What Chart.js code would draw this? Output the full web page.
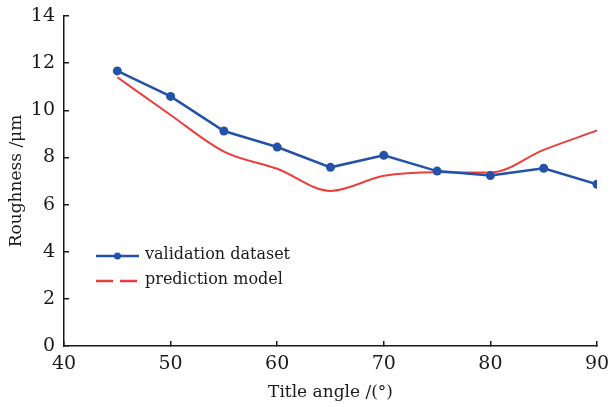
<!DOCTYPE html>
<html>
<head>
<meta charset="utf-8">
<script src="https://cdn.jsdelivr.net/npm/chart.js@4"></script>
<style>
    html, body { margin: 0; padding: 0; background: #ffffff; }
    #wrap { width: 611px; height: 407px; }
</style>
</head>
<body>
<div id="wrap"><canvas id="roughChart" width="611" height="407"></canvas></div>
<script>
const angles = [45, 50, 55, 60, 65, 70, 75, 80, 85, 90];
const validationValues = [11.67, 10.59, 9.12, 8.44, 7.58, 8.09, 7.42, 7.23, 7.54, 6.86];
const predictionValues = [11.4, 9.8, 8.25, 7.52, 6.58, 7.22, 7.37, 7.36, 8.32, 9.14];
const xTicks = [40, 50, 60, 70, 80, 90];
const yTicks = [0, 2, 4, 6, 8, 10, 12, 14];
const seriesNames = ['validation dataset', 'prediction model'];

const blue = '#2352a8';
const red = '#ea3f3c';
const ink = '#1a1a1a';
const serif = "'DejaVu Serif', 'Liberation Serif', serif";

// legend sits inside the plot, so draw it by hand
const insideLegend = {
    id: 'insideLegend',
    afterDraw(chart) {
        const ctx = chart.ctx;
        const x0 = 96, x1 = 139;
        const rows = [256, 281];
        ctx.save();
        ctx.lineWidth = 2.5;

        ctx.strokeStyle = blue;
        ctx.beginPath();
        ctx.moveTo(x0, rows[0]);
        ctx.lineTo(x1, rows[0]);
        ctx.stroke();
        ctx.fillStyle = blue;
        ctx.beginPath();
        ctx.arc((x0 + x1) / 2, rows[0], 3.5, 0, Math.PI * 2);
        ctx.fill();

        ctx.strokeStyle = red;
        ctx.setLineDash([17, 7]);
        ctx.beginPath();
        ctx.moveTo(x0, rows[1]);
        ctx.lineTo(x1, rows[1]);
        ctx.stroke();
        ctx.setLineDash([]);

        ctx.fillStyle = ink;
        ctx.font = `16px ${serif}`;
        ctx.textBaseline = 'middle';
        ctx.fillText(seriesNames[0], 145, rows[0] - 1);
        ctx.fillText(seriesNames[1], 145, rows[1] - 1);
        ctx.restore();
    }
};

const ctx = document.getElementById('roughChart').getContext('2d');

new Chart(ctx, {
    type: 'line',
    data: {
        datasets: [
            {
                label: seriesNames[0],
                data: angles.map((a, i) => ({ x: a, y: validationValues[i] })),
                borderColor: blue,
                backgroundColor: blue,
                borderWidth: 2.5,
                pointRadius: 4.5,
                pointBackgroundColor: blue,
                pointBorderWidth: 0,
                tension: 0
            },
            {
                label: seriesNames[1],
                data: angles.map((a, i) => ({ x: a, y: predictionValues[i] })),
                borderColor: red,
                borderWidth: 2,
                pointRadius: 0,
                cubicInterpolationMode: 'monotone'
            }
        ]
    },
    options: {
        responsive: false,
        animation: false,
        layout: {
            padding: { top: 16, right: 14, left: 0, bottom: 0 }
        },
        plugins: {
            legend: { display: false },
            tooltip: { enabled: false }
        },
        scales: {
            x: {
                type: 'linear',
                min: 40,
                max: 90,
                afterBuildTicks: scale => {
                    scale.ticks = xTicks.map(v => ({ value: v }));
                },
                afterFit: scale => {
                    scale.height = 61;
                    scale.paddingLeft = 0;
                    scale.paddingRight = 0;
                },
                grid: {
                    drawOnChartArea: false,
                    tickLength: -5,
                    color: ink,
                    lineWidth: 1.5
                },
                border: { color: ink, width: 1.5 },
                ticks: {
                    color: ink,
                    font: { family: serif, size: 19 },
                    padding: 12
                },
                title: {
                    display: true,
                    text: 'Title angle /(°)',
                    color: ink,
                    font: { family: serif, size: 17 },
                    padding: { top: 0, bottom: 4 }
                }
            },
            y: {
                type: 'linear',
                min: 0,
                max: 14,
                afterBuildTicks: scale => {
                    scale.ticks = yTicks.map(v => ({ value: v }));
                },
                afterFit: scale => {
                    scale.width = 64;
                    scale.paddingTop = 0;
                    scale.paddingBottom = 0;
                },
                grid: {
                    drawOnChartArea: false,
                    tickLength: -5,
                    color: ink,
                    lineWidth: 1.5
                },
                border: { color: ink, width: 1.5 },
                ticks: {
                    color: ink,
                    font: { family: serif, size: 19 },
                    padding: 14
                },
                title: {
                    display: true,
                    text: 'Roughness /μm',
                    color: ink,
                    font: { family: serif, size: 17 },
                    padding: { top: 6, bottom: 0 }
                }
            }
        }
    },
    plugins: [insideLegend]
});
</script>
</body>
</html>
